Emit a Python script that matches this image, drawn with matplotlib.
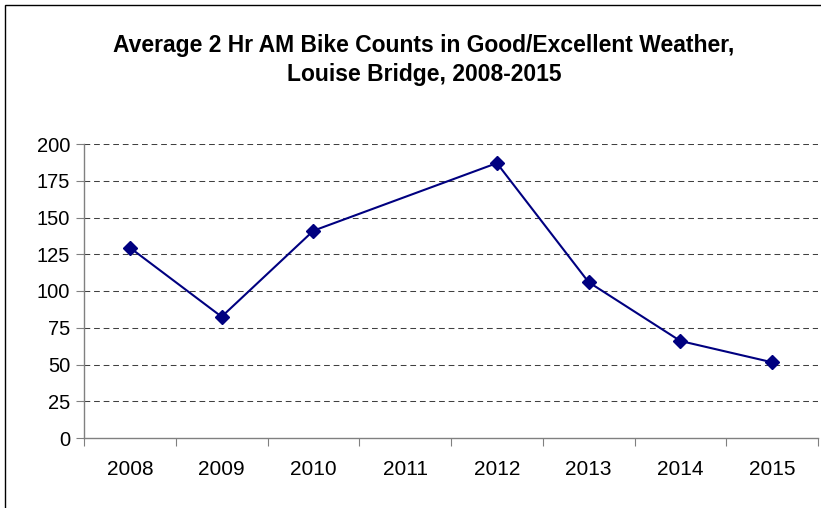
import matplotlib.pyplot as plt
import numpy as np
from matplotlib.patches import Rectangle

YEARS = ["2008", "2009", "2010", "2011", "2012", "2013", "2014", "2015"]
COUNTS = [129.5, 82.5, 141.0, np.nan, 187.0, 106.0, 66.0, 51.5]
Y_TICKS = [0, 25, 50, 75, 100, 125, 150, 175, 200]
TITLE = "Average 2 Hr AM Bike Counts in Good/Excellent Weather,\nLouise Bridge, 2008-2015"

plt.rcParams["font.family"] = ["Liberation Sans", "DejaVu Sans"]

W, H = 821, 508
fig = plt.figure(figsize=(W / 100, H / 100), dpi=100)
ax = fig.add_axes([84 / W, (H - 438) / H, (818 - 84) / W, (438 - 144) / H])

# chart-area frame (runs off the right and bottom edges)
fig.patches.append(Rectangle((5 / W, -0.1), 1.2, (H - 5) / H + 0.1,
                             transform=fig.transFigure, fill=False,
                             edgecolor="#000000", lw=1.0))

x = np.arange(len(YEARS)) + 0.5
vals = np.array(COUNTS, dtype=float)
ok = ~np.isnan(vals)
ax.plot(x[ok], vals[ok], color="#000080", lw=1.5, marker="D", ms=7,
        markerfacecolor="#000080", markeredgecolor="#000080", zorder=3)

ax.set_xlim(0, len(YEARS))
ax.set_ylim(0, 200)
ax.set_yticks(Y_TICKS)
ax.set_yticklabels([str(v) for v in Y_TICKS])
ax.set_xticks(np.arange(len(YEARS) + 1))
ax.set_xticklabels([])
ax.set_xticks(x, minor=True)
ax.set_xticklabels(YEARS, minor=True)
ax.tick_params(axis="x", which="minor", length=0, labelsize=15, pad=16)
ax.tick_params(axis="x", which="major", length=6, color="#808080", direction="out")
ax.tick_params(axis="y", length=6, color="#808080", labelsize=14.5, pad=4)

for v in Y_TICKS[1:]:
    ax.axhline(v, color="#404040", lw=0.75, linestyle=(0, (5.5, 3.7)), zorder=1)

for s in ("top", "right"):
    ax.spines[s].set_visible(False)
for s in ("left", "bottom"):
    ax.spines[s].set_color("#808080")
    ax.spines[s].set_linewidth(1.0)
ax.set_facecolor("none")

fig.text(424 / W, (H - 60) / H, TITLE, ha="center", va="center",
         fontsize=16.5, fontweight="bold", linespacing=1.3)

fig.savefig("out.png", dpi=100)
